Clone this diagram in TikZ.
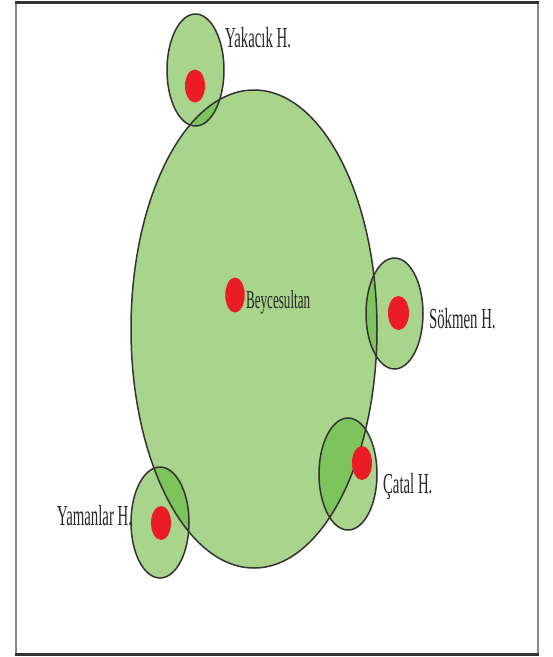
\documentclass[tikz,border=0pt]{standalone}
\usepackage{fontspec}
\setmainfont{Liberation Serif}
\definecolor{lgreen}{HTML}{A8D48C}
\definecolor{dgreen}{HTML}{7DC45C}
\definecolor{dotred}{HTML}{EC1C24}
\definecolor{edge}{HTML}{333333}
\definecolor{framegray}{HTML}{8A8A8A}
\begin{document}
\begin{tikzpicture}[x=1pt,y=-1pt,
  outline/.style={draw=edge,line width=1.5pt},
  site/.style={fill=dotred},
  lbl/.style={anchor=base west,inner sep=0pt,xscale=0.51,text=black!85,font=\fontsize{29}{32}\selectfont},
  biglbl/.style={lbl,font=\fontsize{25.7}{30}\selectfont}]
\useasboundingbox (0,0) rectangle (553,657);
% frame
\draw[framegray,line width=2pt] (16,3) rectangle (538,654);
\draw[edge,line width=2.2pt] (15,2.5) -- (539,2.5);
\draw[edge,line width=2.5pt] (15,654.5) -- (539,654.5);
% fills
\def\bigE{(254,329) ellipse [x radius=123pt, y radius=239pt]}
\fill[lgreen] \bigE;
\fill[lgreen] (195.5,70) ellipse [x radius=28.5pt, y radius=56pt];
\fill[lgreen] (394.5,313.5) ellipse [x radius=28.5pt, y radius=55.5pt];
\fill[lgreen] (348,474) ellipse [x radius=29pt, y radius=56pt];
\fill[lgreen] (160,522.5) ellipse [x radius=29pt, y radius=55.5pt];
% overlaps
\begin{scope}
  \clip \bigE;
  \fill[dgreen] (195.5,70) ellipse [x radius=28.5pt, y radius=56pt];
  \fill[dgreen] (394.5,313.5) ellipse [x radius=28.5pt, y radius=55.5pt];
  \fill[dgreen] (348,474) ellipse [x radius=29pt, y radius=56pt];
  \fill[dgreen] (160,522.5) ellipse [x radius=29pt, y radius=55.5pt];
\end{scope}
% outlines
\draw[outline] \bigE;
\draw[outline] (195.5,70) ellipse [x radius=28.5pt, y radius=56pt];
\draw[outline] (394.5,313.5) ellipse [x radius=28.5pt, y radius=55.5pt];
\draw[outline] (348,474) ellipse [x radius=29pt, y radius=56pt];
\draw[outline] (160,522.5) ellipse [x radius=29pt, y radius=55.5pt];
% sites
\fill[site] (195,86) ellipse [x radius=10pt, y radius=16.5pt];
\fill[site] (398.5,313) ellipse [x radius=10.5pt, y radius=17pt];
\fill[site] (362,463) ellipse [x radius=10pt, y radius=17pt];
\fill[site] (161,523) ellipse [x radius=10pt, y radius=17pt];
\fill[site] (235,295) ellipse [x radius=9.7pt, y radius=17.5pt];
% labels
\node[lbl] (yak) at (225,47) {Yakacık H.};
\node[lbl] (sok) at (429,328) {Sökmen H.};
\node[lbl] (cat) at (383,493) {Çatal H.};
\node[lbl] (yam) at (57,525) {Yamanlar H.};
\node[biglbl] (bey) at (246,308) {Beycesultan};
\end{tikzpicture}
\end{document}
